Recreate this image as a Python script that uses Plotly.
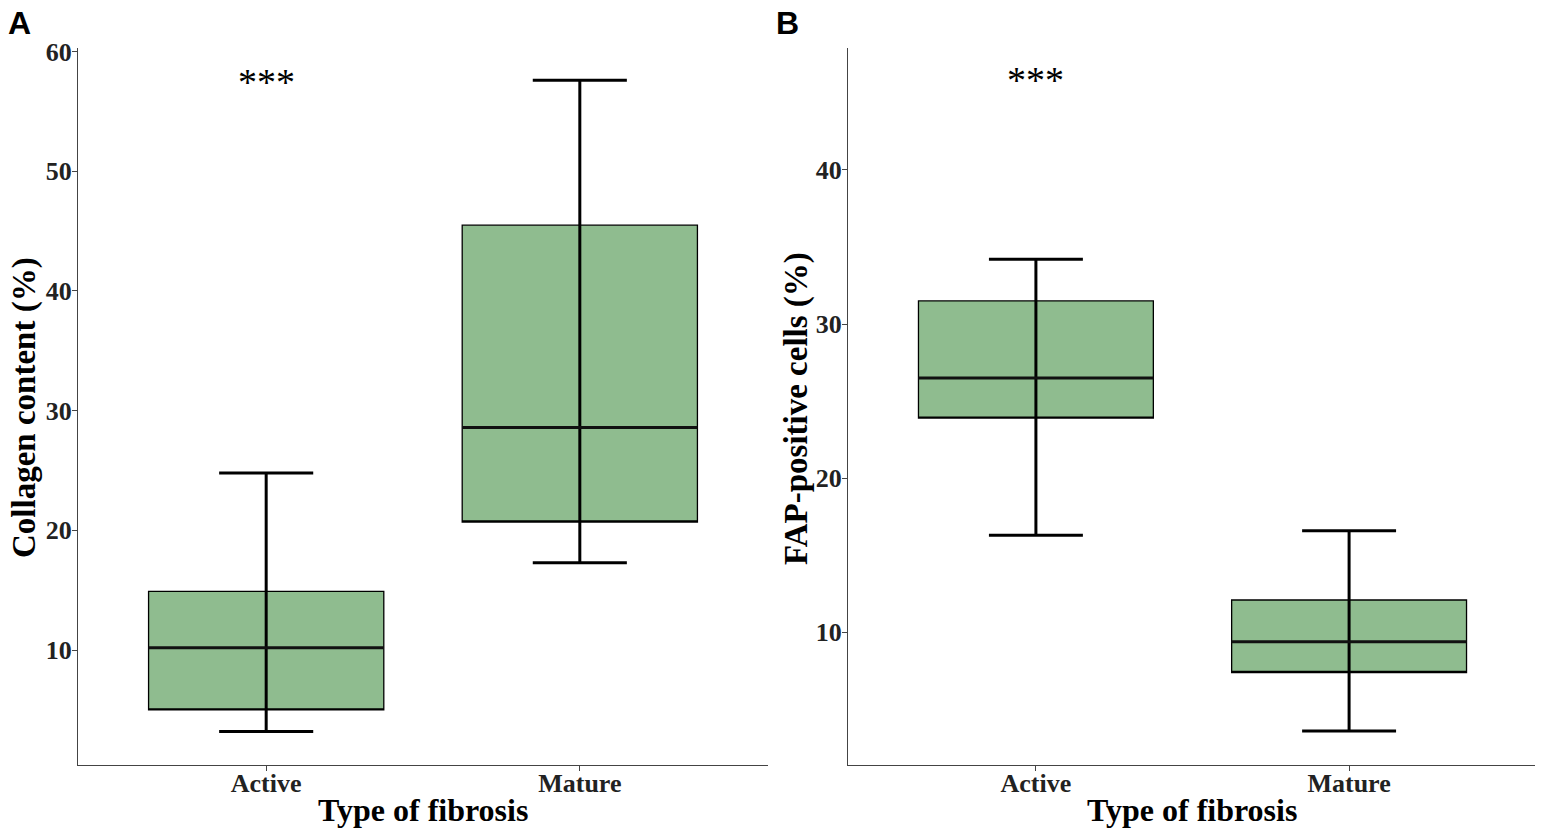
import plotly.graph_objects as go
from plotly.subplots import make_subplots

# data
categories = ["Active", "Mature"]

collagen_low = [3.2, 17.3]
collagen_q1 = [5.0, 20.7]
collagen_median = [10.2, 28.6]
collagen_q3 = [14.9, 45.5]
collagen_high = [24.8, 57.6]

fap_low = [16.3, 3.6]
fap_q1 = [23.9, 7.4]
fap_median = [26.5, 9.4]
fap_q3 = [31.5, 12.1]
fap_high = [34.2, 16.6]

signif_labels = ["***", "***"]
signif_y = [57.5, 45.8]

FILL = "#8FBC8F"
SERIF = "Liberation Serif"
BOX_W = 0.75
CAP_W = 0.3
W, H = 1543, 835
OFF = 8  # page body margin


def px_x(x):
    return (x - OFF) / W


def px_y(y):
    return 1 - (y - OFF) / H


fig = make_subplots(rows=1, cols=2)


def add_panel(col, low, q1, med, q3, high):
    xs = list(range(len(categories)))
    # box body
    fig.add_trace(
        go.Box(x=xs, q1=q1, median=q1, q3=q3, lowerfence=q1, upperfence=q3,
               width=BOX_W, fillcolor=FILL, whiskerwidth=0,
               line=dict(color="black", width=1.3), hoverinfo="skip",
               showlegend=False),
        row=1, col=col
    )
    # whiskers (vertical line through the box) and caps
    wx, wy = [], []
    for i in xs:
        wx += [i, i, None, i - CAP_W / 2, i + CAP_W / 2, None, i - CAP_W / 2, i + CAP_W / 2, None]
        wy += [low[i], high[i], None, low[i], low[i], None, high[i], high[i], None]
    fig.add_trace(
        go.Scatter(x=wx, y=wy, mode="lines", line=dict(color="black", width=3),
                   hoverinfo="skip", showlegend=False),
        row=1, col=col
    )
    # thick median
    mx, my = [], []
    for i in xs:
        mx += [i - BOX_W / 2, i + BOX_W / 2, None]
        my += [med[i], med[i], None]
    fig.add_trace(
        go.Scatter(x=mx, y=my, mode="lines", line=dict(color="#111111", width=3),
                   hoverinfo="skip", showlegend=False),
        row=1, col=col
    )


add_panel(1, collagen_low, collagen_q1, collagen_median, collagen_q3, collagen_high)
add_panel(2, fap_low, fap_q1, fap_median, fap_q3, fap_high)

axis_common = dict(showline=True, linecolor="#444444", linewidth=1.2,
                   ticks="outside", ticklen=5, tickcolor="#444444",
                   showgrid=False, zeroline=False, automargin=False,
                   tickfont=dict(family=SERIF, size=26, color="#222222", weight="bold"))

fig.update_xaxes(range=[-0.6, 1.6], tickvals=[0, 1], ticktext=categories,
                 ticklabelstandoff=-10, **axis_common)
fig.update_xaxes(domain=[px_x(78), px_x(768)], row=1, col=1)
fig.update_xaxes(domain=[px_x(848), px_x(1537)], row=1, col=2)
fig.update_yaxes(domain=[px_y(765), px_y(48)], ticklabelstandoff=-5, **axis_common)
fig.update_yaxes(range=[0.4, 60.3], tickvals=[10, 20, 30, 40, 50, 60], row=1, col=1)
fig.update_yaxes(range=[1.4, 47.9], tickvals=[10, 20, 30, 40], row=1, col=2)

annotations = []
# axis titles
for xc, ytxt in [(24, "Collagen content (%)"), (796, "FAP-positive cells (%)")]:
    annotations.append(dict(x=px_x(xc), y=px_y(408), xref="paper", yref="paper",
                            xanchor="center", yanchor="middle",
                            text=ytxt, textangle=-90, showarrow=False,
                            font=dict(family=SERIF, size=33, color="black", weight="bold")))
for xc in [423, 1192]:
    annotations.append(dict(x=px_x(xc), y=px_y(810), xref="paper", yref="paper",
                            xanchor="center", yanchor="middle",
                            text="Type of fibrosis", showarrow=False,
                            font=dict(family=SERIF, size=32, color="black", weight="bold")))
# panel letters
for xc, lab in [(19, "A"), (787, "B")]:
    annotations.append(dict(x=px_x(xc), y=px_y(23), xref="paper", yref="paper",
                            xanchor="center", yanchor="middle",
                            text=lab, showarrow=False,
                            font=dict(family="Liberation Sans", size=32, color="black", weight="bold")))
# significance marks
for k, (lab, yv) in enumerate(zip(signif_labels, signif_y)):
    annotations.append(dict(x=0, y=yv, xref="x" if k == 0 else "x2", yref="y" if k == 0 else "y2",
                            xanchor="center", yanchor="middle",
                            text=lab, showarrow=False,
                            font=dict(family=SERIF, size=38, color="black")))

fig.update_layout(
    width=W, height=H,
    margin=dict(l=0, r=0, t=0, b=0),
    paper_bgcolor="white", plot_bgcolor="white",
    annotations=annotations,
    showlegend=False
)

fig.write_html("out.html")
